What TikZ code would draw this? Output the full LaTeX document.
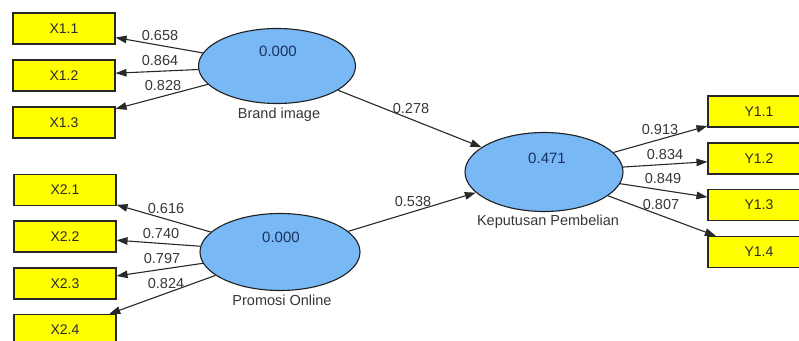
\documentclass[tikz,border=0pt]{standalone}
\usepackage{fontspec}
\setmainfont{Liberation Sans}
\usetikzlibrary{arrows.meta,shapes.geometric}

\definecolor{indfill}{RGB}{255,255,0}
\definecolor{latfill}{RGB}{120,184,244}
\definecolor{edgegray}{RGB}{40,40,40}
\definecolor{valnavy}{RGB}{28,48,96}
\definecolor{txtgray}{RGB}{55,55,55}

\tikzset{
  indicator/.style={draw=edgegray, line width=1.1pt, fill=indfill,
    minimum width=102pt, minimum height=31pt, inner sep=0pt,
    font=\fontsize{14}{16}\selectfont, text=txtgray!80!black},
  latent/.style={ellipse, draw=edgegray!80!black, line width=1.1pt, fill=latfill,
    inner sep=0pt},
  rval/.style={font=\fontsize{15}{17}\selectfont, text=valnavy, inner sep=0pt},
  lname/.style={font=\fontsize{14.5}{17}\selectfont, text=txtgray, inner sep=0pt},
  coef/.style={font=\fontsize{14.5}{17}\selectfont, text=txtgray, inner sep=0pt},
  path/.style={draw=edgegray, line width=1.1pt,
    -{Triangle[length=11pt,width=7.5pt]}},
}

\begin{document}
\begin{tikzpicture}[x=1pt,y=-1pt]
  \useasboundingbox (0,0) rectangle (799,340);
  \fill[white] (0,0) rectangle (799,340);
  \clip (0,0) rectangle (799,340);

  % latent variables
  \node[latent, minimum width=157pt, minimum height=75pt] (bi) at (277,66) {};
  \node[latent, minimum width=160pt, minimum height=77pt] (po) at (280,252) {};
  \node[latent, minimum width=158pt, minimum height=79pt] (kp) at (544,172) {};

  \node[rval] (bival) at (278,51) {0.000};
  \node[rval] (poval) at (281,237) {0.000};
  \node[rval] (kpval) at (547,158) {0.471};

  \node[lname] (biname) at (279,115) {Brand image};
  \node[lname] (poname) at (282,300) {Promosi Online};
  \node[lname] (kpname) at (548,222) {Keputusan Pembelian};

  % indicators of Brand image
  \node[indicator] (x11) at (64,28.5) {X1.1};
  \node[indicator] (x12) at (64,75.5) {X1.2};
  \node[indicator] (x13) at (64,122.5) {X1.3};

  % indicators of Promosi Online
  \node[indicator] (x21) at (65,190) {X2.1};
  \node[indicator] (x22) at (65,236.5) {X2.2};
  \node[indicator] (x23) at (65,283.5) {X2.3};
  \node[indicator] (x24) at (65,330) {X2.4};

  % indicators of Keputusan Pembelian
  \node[indicator] (y11) at (759,111.5) {Y1.1};
  \node[indicator] (y12) at (759,158.5) {Y1.2};
  \node[indicator] (y13) at (759,205) {Y1.3};
  \node[indicator] (y14) at (759,252) {Y1.4};

  % outer loadings
  \draw[path] (bi) -- (x11);
  \draw[path] (bi) -- (x12);
  \draw[path] (bi) -- (x13);
  \draw[path] (po) -- (x21);
  \draw[path] (po) -- (x22);
  \draw[path] (po) -- (x23);
  \draw[path] (po) -- (x24);
  \draw[path] (kp) -- (y11);
  \draw[path] (kp) -- (y12);
  \draw[path] (kp) -- (y13);
  \draw[path] (kp) -- (y14);

  % structural paths
  \draw[path] (bi) -- (kp);
  \draw[path] (po) -- (kp);

  % coefficients
  \node[coef] (c11) at (160,36) {0.658};
  \node[coef] (c12) at (160,61) {0.864};
  \node[coef] (c13) at (163,86) {0.828};
  \node[coef] (c21) at (166,209) {0.616};
  \node[coef] (c22) at (161,234) {0.740};
  \node[coef] (c23) at (162,259) {0.797};
  \node[coef] (c24) at (166,284) {0.824};
  \node[coef] (cbi) at (411,109) {0.278};
  \node[coef] (cpo) at (413,202) {0.538};
  \node[coef] (cy1) at (660,130) {0.913};
  \node[coef] (cy2) at (665,155) {0.834};
  \node[coef] (cy3) at (663,179) {0.849};
  \node[coef] (cy4) at (661,205) {0.807};
\end{tikzpicture}
\end{document}
